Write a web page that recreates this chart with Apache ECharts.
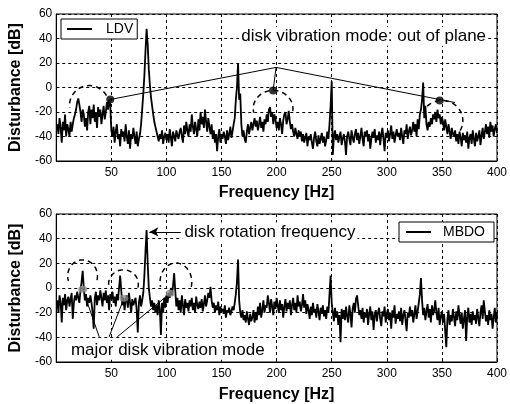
<!DOCTYPE html>
<html><head><meta charset="utf-8">
<script src="https://cdn.jsdelivr.net/npm/echarts@6/dist/echarts.min.js"></script>
<style>html,body{margin:0;padding:0;background:#fff}#c{width:510px;height:404px}</style>
</head><body><div id="c"></div>
<script>
// ---- data (1 Hz bins starting at 1 Hz) ----
const freqStartHz = 1;
const ldvDb = [
-30,-38,-25,-33,-45,-28,-35,-22,-40,-30,
-34,-40,-28,-36,-30,-25,-22,-18,-12,-9,
-14,-20,-28,-18,-22,-32,-25,-35,-20,-15,
-30,-18,-25,-14,-28,-20,-33,-16,-24,-18,
-30,-22,-15,-26,-20,-12,-18,-10,-14,-35,
-40,-32,-45,-36,-30,-42,-38,-48,-34,-40,
-36,-44,-30,-40,-46,-35,-50,-38,-42,-33,
-40,-46,-36,-48,-42,-38,-30,-18,-5,10,
30,48,35,15,2,-8,-15,-22,-28,-32,
-36,-40,-44,-38,-42,-35,-46,-40,-37,-43,
-38,-45,-34,-41,-48,-36,-40,-44,-35,-39,
-42,-36,-33,-40,-45,-31,-38,-28,-35,-40,
-30,-36,-22,-32,-38,-28,-34,-40,-26,-35,
-20,-30,-24,-33,-18,-28,-36,-25,-32,-38,
-30,-42,-35,-45,-38,-52,-40,-34,-45,-38,
-42,-36,-40,-46,-35,-43,-38,-32,-41,-36,
-30,-25,-10,0,20,-10,-5,-30,-40,-35,
-42,-45,-36,-30,-38,-33,-28,-35,-30,-25,
-32,-27,-35,-30,-24,-33,-28,-36,-26,-30,
-22,-28,-18,-16,-24,-20,-30,-22,-26,-33,
-28,-35,-25,-30,-38,-27,-22,-20,-30,-26,
-19,-28,-34,-30,-36,-40,-33,-38,-42,-35,
-40,-36,-44,-38,-45,-41,-37,-48,-40,-43,
-38,-45,-50,-41,-36,-44,-48,-39,-46,-42,
-37,-45,-40,-48,-43,-36,-42,-30,-15,5,
-55,-40,-35,-43,-38,-45,-40,-36,-47,-42,
-38,-44,-55,-40,-36,-42,-47,-35,-41,-45,
-38,-34,-43,-37,-46,-40,-33,-42,-48,-36,
-40,-35,-44,-38,-50,-42,-36,-41,-34,-45,
-39,-43,-36,-47,-38,-33,-42,-52,-37,-41,
-35,-44,-38,-31,-42,-36,-45,-39,-34,-40,
-37,-43,-33,-40,-46,-35,-38,-30,-42,-36,
-32,-39,-35,-28,-36,-30,-40,-26,-34,-22,
-18,-10,4,-25,-15,-30,-35,-28,-32,-25,
-30,-22,-26,-20,-28,-18,-25,-22,-30,-24,
-28,-35,-26,-32,-38,-30,-36,-42,-33,-38,
-40,-35,-44,-38,-46,-36,-41,-48,-37,-43,
-39,-45,-36,-50,-41,-38,-46,-35,-42,-48,
-37,-44,-40,-35,-47,-39,-33,-42,-36,-30,
-38,-32,-41,-28,-36,-31,-40,-34,-30,-37
];
const mbdoDb = [
-10,-20,-6,-12,-28,-8,-14,-5,-18,-10,
-7,-15,-9,-4,-25,-12,-6,-10,-3,-8,
-12,-2,5,14,0,-10,-5,-15,-8,-12,
-6,-12,-20,-33,-8,-3,-14,-6,-10,-2,
-8,-15,-4,-10,-2,-12,-6,-18,-5,-9,
-3,-12,-7,-15,-5,-10,0,10,-2,-14,
-8,-18,-10,-6,-16,-4,-12,-20,-9,-14,
-14,-8,-18,-36,-12,-6,-15,-10,-4,10,
30,47,20,0,-8,-15,-10,-18,-12,-20,
-14,-22,-10,-17,-38,-12,-20,-8,-16,-6,
-12,-4,-8,0,-6,2,12,-2,-15,-8,
-18,-10,-20,-6,-14,-22,-9,-16,-12,-19,
-10,-15,-8,-18,-12,-20,-7,-14,-17,-11,
-16,-9,-19,-13,-6,-15,-10,-4,-8,1,
-10,-16,-12,-20,-14,-18,-11,-22,-15,-19,
-17,-21,-14,-24,-18,-20,-16,-22,-19,-15,
-18,-12,-5,5,23,-10,-20,-24,-18,-26,
-22,-28,-19,-25,-30,-21,-27,-24,-18,-28,
-20,-26,-15,-22,-12,-24,-18,-10,-20,-14,
-16,-6,-12,-20,-9,-15,-22,-11,-17,-8,
-14,-20,-10,-18,-13,-24,-15,-9,-19,-12,
-17,-10,-22,-14,-8,-18,-12,-20,-6,-15,
-11,-19,-14,-5,-16,-10,-21,-13,-18,-25,
-15,-22,-12,-20,-17,-24,-13,-19,-26,-16,
-21,-14,-23,-18,-25,-15,-20,-5,10,-12,
-20,-27,-16,-24,-19,-30,-22,-44,-17,-25,
-18,-26,-15,-23,-28,-14,-21,-32,-17,-12,
-20,-9,-6,-14,-22,-18,-25,-16,-28,-20,
-24,-17,-30,-21,-15,-26,-19,-34,-22,-18,
-27,-20,-16,-25,-31,-19,-23,-15,-28,-21,
-17,-26,-20,-33,-18,-24,-14,-29,-21,-25,
-19,-27,-16,-30,-22,-18,-26,-35,-20,-24,
-15,-23,-18,-28,-21,-14,-25,-19,-12,-5,
8,-10,-22,-16,-26,-19,-13,-24,-17,-28,
-14,-22,-18,-10,-20,-26,-16,-30,-23,-19,
-28,-21,-35,-48,-25,-18,-30,-22,-27,-17,
-24,-31,-19,-26,-14,-22,-29,-20,-33,-25,
-18,-43,-23,-16,-28,-21,-30,-19,-26,-22,
-29,-17,-24,-31,-20,-14,-25,-10,-19,-27,
-22,-30,-18,-26,-21,-33,-24,-16,-28,-20
];

// axis settings
const xMin = 0, xMax = 400, xStep = 50;
const yMin = -60, yMax = 60, yStep = 20;

// annotations (data coordinates: [Hz, dB])
const topModePoints = [[49,-9.8],[196.8,-2.5],[348,-10.7]];
const topLeaderPath = [[49,-9.8],[199.5,16.4],[362,-12.3]];
const topLeaderStem = [[199.5,16.4],[196.8,-2.5]];
// [centerHz, centerDb, radiusHz, radiusDb, startDeg, endDeg]
const topArcs = [[30,-14.8,18,16.4,30,186],[196.8,-17.2,18,14.8,-8,195],[350,-27,19,16.4,-30,150]];
const bottomArcs = [[23.9,9.8,13.5,13,-15,200],[61,3.3,13.5,11.4,-15,195],[108.6,4.9,14.4,15.4,-15,195]];
const bottomModePoints = [[24,-1],[61.4,-8.4],[103.4,-4.3]];
const bottomLeaderFeet = [[39,-39.6],[48,-39.6],[55.4,-39.6]];
const rotationArrow = [[113,45.5],[84.5,45.5]];
const topTexts = [{t:'disk vibration mode: out of plane', p:[279,41.8], a:'center'}];
const bottomTexts = [{t:'disk rotation frequency', p:[114.5,45.5], a:'left'},
                     {t:'major disk vibration mode', p:[11.5,-50.4], a:'left'}];

const FONT = '"Liberation Sans", Arial, Helvetica, sans-serif';
const toPairs = arr => arr.map((v, i) => [freqStartHz + i, v]);

function xAxisOf(i){
  return {type:'value', gridIndex:i, min:xMin, max:xMax, interval:xStep,
    name:'Frequency [Hz]', nameLocation:'middle', nameGap: i ? 25 : 24,
    nameTextStyle:{fontSize:16, fontWeight:'bold', color:'#000', fontFamily:FONT},
    axisLine:{show:true, onZero:false, lineStyle:{color:'#000', width:1}},
    axisTick:{show:true, inside:true, length:3, lineStyle:{color:'#000'}},
    axisLabel:{color:'#000', fontSize:12, margin:6, fontFamily:FONT, formatter:v => v === 0 ? '' : String(v)},
    splitLine:{show:true, lineStyle:{color:'#000', type:[3,3], width:1}}};
}
function yAxisOf(i){
  return {type:'value', gridIndex:i, min:yMin, max:yMax, interval:yStep,
    name:'Disturbance [dB]', nameLocation:'middle', nameGap:29,
    nameTextStyle:{fontSize:16, fontWeight:'bold', color:'#000', fontFamily:FONT},
    axisLine:{show:true, onZero:false, lineStyle:{color:'#000', width:1}},
    axisTick:{show:true, inside:true, length:3, lineStyle:{color:'#000'}},
    axisLabel:{color:'#000', fontSize:12, margin:4, fontFamily:FONT},
    splitLine:{show:true, lineStyle:{color:'#000', type:[3,3], width:1}}};
}
function leader(i, path){
  return {type:'line', xAxisIndex:i, yAxisIndex:i, data:path, symbol:'none', silent:true, z:6,
    lineStyle:{color:'#000', width:1}, animation:false};
}
function arcs(i, list){
  return {type:'custom', xAxisIndex:i, yAxisIndex:i, data:list, encode:{x:0, y:1}, z:6, silent:true,
    renderItem(params, api){
      const cx = api.value(0), cy = api.value(1), rx = api.value(2), ry = api.value(3);
      const a0 = api.value(4), a1 = api.value(5);
      const c = api.coord([cx, cy]);
      const s = api.size([rx, ry], [cx, cy]);
      const pts = [];
      for (let a = a0; a <= a1 + 0.01; a += 3) {
        const r = a * Math.PI / 180;
        pts.push([c[0] + s[0] * Math.cos(r), c[1] - s[1] * Math.sin(r)]);
      }
      return {type:'polyline', shape:{points:pts}, style:{stroke:'#000', fill:null, lineWidth:1.5, lineDash:[5,4]}};
    }};
}
function texts(i, list){
  return {type:'custom', xAxisIndex:i, yAxisIndex:i, data:list.map(d => d.p), encode:{x:0, y:1}, z:8, silent:true,
    renderItem(params, api){
      const d = list[params.dataIndex];
      const c = api.coord([api.value(0), api.value(1)]);
      return {type:'text', x:c[0], y:c[1], z2:10,
        style:{text:d.t, fill:'#000', font:'17px ' + FONT, align:d.a, verticalAlign:'middle',
               textAlign:d.a, textVerticalAlign:'middle', backgroundColor:'#fff', padding:[1,2,1,2]}};
    }};
}

const chart = echarts.init(document.getElementById('c'), null, {renderer:'canvas'});
chart.setOption({
  animation:false,
  backgroundColor:'#fff',
  textStyle:{fontFamily:FONT},
  grid:[
    {left:54, top:14, width:446, height:147, show:true, borderColor:'#000', borderWidth:1, backgroundColor:'transparent'},
    {left:54, top:214, width:447, height:149, show:true, borderColor:'#000', borderWidth:1, backgroundColor:'transparent'}
  ],
  xAxis:[xAxisOf(0), xAxisOf(1)],
  yAxis:[yAxisOf(0), yAxisOf(1)],
  legend:[
    {data:['LDV'], left:61, top:19, orient:'horizontal', padding:[3,4,3,6], icon:'rect', itemWidth:25, itemHeight:2,
     backgroundColor:'#fff', borderColor:'#000', borderWidth:1, borderRadius:0,
     textStyle:{fontSize:14, color:'#000', padding:[0,0,0,9], fontFamily:FONT}, selectedMode:false},
    {data:['MBDO'], left:399, top:222, orient:'horizontal', padding:[3,9,3,7], icon:'rect', itemWidth:25, itemHeight:2,
     backgroundColor:'#fff', borderColor:'#000', borderWidth:1, borderRadius:0,
     textStyle:{fontSize:14, color:'#000', padding:[0,0,0,7], fontFamily:FONT}, selectedMode:false}
  ],
  series:[
    {name:'LDV', type:'line', xAxisIndex:0, yAxisIndex:0, data:toPairs(ldvDb), symbol:'none', z:3,
     color:'#000', lineStyle:{color:'#000', width:1.8}},
    {name:'MBDO', type:'line', xAxisIndex:1, yAxisIndex:1, data:toPairs(mbdoDb), symbol:'none', z:3,
     color:'#000', lineStyle:{color:'#000', width:1.8},
     markLine:{silent:true, symbol:['none','arrow'], symbolSize:[7,9], label:{show:false},
       lineStyle:{color:'#000', type:'solid', width:1},
       data:[[{coord:rotationArrow[0]}, {coord:rotationArrow[1]}]]}},
    leader(0, topLeaderPath),
    leader(0, topLeaderStem),
    {type:'scatter', xAxisIndex:0, yAxisIndex:0, data:topModePoints, symbol:'circle', symbolSize:8, z:7, silent:true,
     itemStyle:{color:'#000'}},
    arcs(0, topArcs),
    texts(0, topTexts),
    ...bottomLeaderFeet.map((f, k) => leader(1, [f, bottomModePoints[k]])),
    {type:'scatter', xAxisIndex:1, yAxisIndex:1, data:bottomModePoints, symbol:'circle', symbolSize:[9,7], z:7, silent:true,
     itemStyle:{color:'#8c8c8c'}},
    arcs(1, bottomArcs),
    texts(1, bottomTexts)
  ]
});
</script></body></html>
